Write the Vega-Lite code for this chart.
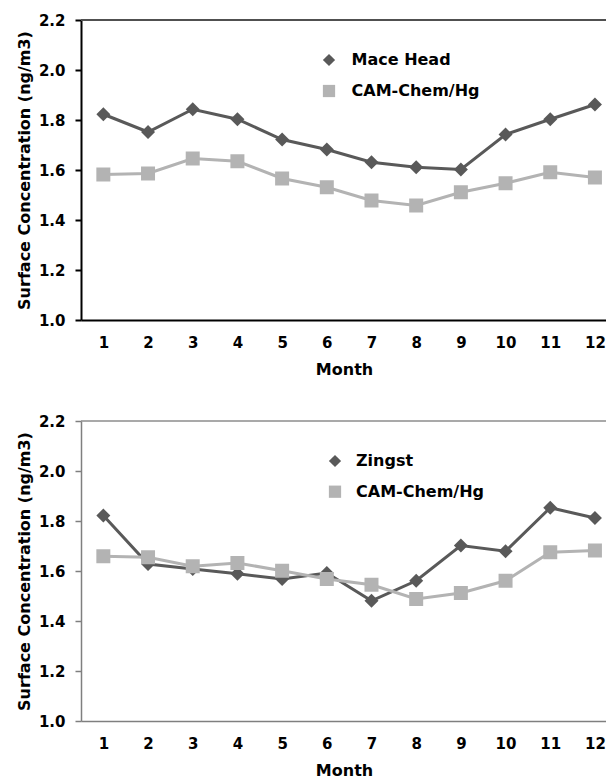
{
  "$schema": "https://vega.github.io/schema/vega-lite/v6.json",
  "background": "white",
  "padding": {"left": 16, "top": 13, "right": 0, "bottom": 0},
  "spacing": 37,
  "config": {
    "font": "DejaVu Sans",
    "view": {"stroke": null},
    "axis": {
      "grid": false,
      "labelFont": "DejaVu Sans",
      "labelFontWeight": "bold",
      "labelFontSize": 15,
      "labelColor": "#000000",
      "titleFont": "DejaVu Sans",
      "titleFontWeight": "bold",
      "titleFontSize": 16,
      "titleColor": "#000000"
    },
    "legend": {
      "orient": "none",
      "title": null,
      "padding": 0,
      "labelFont": "DejaVu Sans",
      "labelFontWeight": "bold",
      "labelFontSize": 16,
      "labelColor": "#000000",
      "symbolSize": 150,
      "symbolStrokeWidth": 0,
      "symbolOpacity": 1
    }
  },
  "resolve": {
    "scale": {"color": "independent", "shape": "independent"},
    "legend": {"color": "independent", "shape": "independent"}
  },
  "vconcat": [
    {
      "width": 526,
      "height": 300,
      "data": {"values": [
        {"series": "Mace Head", "month": 1, "value": 1.823},
        {"series": "Mace Head", "month": 2, "value": 1.752},
        {"series": "Mace Head", "month": 3, "value": 1.843},
        {"series": "Mace Head", "month": 4, "value": 1.803},
        {"series": "Mace Head", "month": 5, "value": 1.722},
        {"series": "Mace Head", "month": 6, "value": 1.682},
        {"series": "Mace Head", "month": 7, "value": 1.631},
        {"series": "Mace Head", "month": 8, "value": 1.611},
        {"series": "Mace Head", "month": 9, "value": 1.602},
        {"series": "Mace Head", "month": 10, "value": 1.742},
        {"series": "Mace Head", "month": 11, "value": 1.803},
        {"series": "Mace Head", "month": 12, "value": 1.862},
        {"series": "CAM-Chem/Hg", "month": 1, "value": 1.582},
        {"series": "CAM-Chem/Hg", "month": 2, "value": 1.586},
        {"series": "CAM-Chem/Hg", "month": 3, "value": 1.646},
        {"series": "CAM-Chem/Hg", "month": 4, "value": 1.635},
        {"series": "CAM-Chem/Hg", "month": 5, "value": 1.566},
        {"series": "CAM-Chem/Hg", "month": 6, "value": 1.531},
        {"series": "CAM-Chem/Hg", "month": 7, "value": 1.478},
        {"series": "CAM-Chem/Hg", "month": 8, "value": 1.458},
        {"series": "CAM-Chem/Hg", "month": 9, "value": 1.511},
        {"series": "CAM-Chem/Hg", "month": 10, "value": 1.547},
        {"series": "CAM-Chem/Hg", "month": 11, "value": 1.591},
        {"series": "CAM-Chem/Hg", "month": 12, "value": 1.570}
      ]},
      "layer": [
        {
          "data": {"values": [{}]},
          "mark": {"type": "rule", "color": "#505050", "strokeWidth": 2},
          "encoding": {"y": {"datum": 2.2, "type": "quantitative"}}
        },
        {
          "mark": {"type": "line", "strokeWidth": 3},
          "encoding": {
            "x": {"field": "month", "type": "quantitative",
              "scale": {"domain": [0.5, 12.27], "nice": false, "zero": false},
              "axis": {"values": [1,2,3,4,5,6,7,8,9,10,11,12], "ticks": false, "labelPadding": 15, "labelFlush": false, "labelOverlap": false, "title": "Month", "titlePadding": 11, "domainColor": "#000000", "domainWidth": 2}},
            "y": {"field": "value", "type": "quantitative",
              "scale": {"domain": [1.0, 2.2], "nice": false, "zero": false},
              "axis": {"values": [1.0,1.2,1.4,1.6,1.8,2.0,2.2], "format": ".1f", "tickSize": 6, "tickColor": "#000000", "tickWidth": 2, "labelPadding": 10, "title": "Surface Concentration (ng/m3)", "titlePadding": 6, "domainColor": "#000000", "domainWidth": 2}},
            "color": {"field": "series", "type": "nominal",
              "scale": {"domain": ["Mace Head", "CAM-Chem/Hg"], "range": ["#595959", "#b3b3b3"]},
              "legend": {"legendX": 240, "legendY": 32, "rowPadding": 15, "labelOffset": 14.5}}
          }
        },
        {
          "mark": {"type": "point", "filled": true, "opacity": 1, "size": 196},
          "encoding": {
            "x": {"field": "month", "type": "quantitative"},
            "y": {"field": "value", "type": "quantitative"},
            "color": {"field": "series", "type": "nominal",
              "legend": {"legendX": 240, "legendY": 32, "rowPadding": 15, "labelOffset": 14.5}},
            "shape": {"field": "series", "type": "nominal",
              "scale": {"domain": ["Mace Head", "CAM-Chem/Hg"], "range": ["diamond", "square"]},
              "legend": null}
          }
        }
      ]
    },
    {
      "width": 526,
      "height": 300,
      "data": {"values": [
        {"series": "Zingst", "month": 1, "value": 1.822},
        {"series": "Zingst", "month": 2, "value": 1.628},
        {"series": "Zingst", "month": 3, "value": 1.608},
        {"series": "Zingst", "month": 4, "value": 1.589},
        {"series": "Zingst", "month": 5, "value": 1.568},
        {"series": "Zingst", "month": 6, "value": 1.592},
        {"series": "Zingst", "month": 7, "value": 1.481},
        {"series": "Zingst", "month": 8, "value": 1.561},
        {"series": "Zingst", "month": 9, "value": 1.702},
        {"series": "Zingst", "month": 10, "value": 1.679},
        {"series": "Zingst", "month": 11, "value": 1.853},
        {"series": "Zingst", "month": 12, "value": 1.812},
        {"series": "CAM-Chem/Hg", "month": 1, "value": 1.659},
        {"series": "CAM-Chem/Hg", "month": 2, "value": 1.655},
        {"series": "CAM-Chem/Hg", "month": 3, "value": 1.619},
        {"series": "CAM-Chem/Hg", "month": 4, "value": 1.632},
        {"series": "CAM-Chem/Hg", "month": 5, "value": 1.601},
        {"series": "CAM-Chem/Hg", "month": 6, "value": 1.568},
        {"series": "CAM-Chem/Hg", "month": 7, "value": 1.545},
        {"series": "CAM-Chem/Hg", "month": 8, "value": 1.488},
        {"series": "CAM-Chem/Hg", "month": 9, "value": 1.512},
        {"series": "CAM-Chem/Hg", "month": 10, "value": 1.561},
        {"series": "CAM-Chem/Hg", "month": 11, "value": 1.675},
        {"series": "CAM-Chem/Hg", "month": 12, "value": 1.682}
      ]},
      "layer": [
        {
          "data": {"values": [{}]},
          "mark": {"type": "rule", "color": "#8c8c8c", "strokeWidth": 1.5},
          "encoding": {"y": {"datum": 2.2, "type": "quantitative"}}
        },
        {
          "mark": {"type": "line", "strokeWidth": 3},
          "encoding": {
            "x": {"field": "month", "type": "quantitative",
              "scale": {"domain": [0.5, 12.27], "nice": false, "zero": false},
              "axis": {"values": [1,2,3,4,5,6,7,8,9,10,11,12], "ticks": false, "labelPadding": 15, "labelFlush": false, "labelOverlap": false, "title": "Month", "titlePadding": 11, "domainColor": "#7f7f7f", "domainWidth": 1.5}},
            "y": {"field": "value", "type": "quantitative",
              "scale": {"domain": [1.0, 2.2], "nice": false, "zero": false},
              "axis": {"values": [1.0,1.2,1.4,1.6,1.8,2.0,2.2], "format": ".1f", "tickSize": 6, "tickColor": "#7f7f7f", "tickWidth": 1.5, "labelPadding": 10, "title": "Surface Concentration (ng/m3)", "titlePadding": 6, "domainColor": "#7f7f7f", "domainWidth": 1.5}},
            "color": {"field": "series", "type": "nominal",
              "scale": {"domain": ["Zingst", "CAM-Chem/Hg"], "range": ["#595959", "#b3b3b3"]},
              "legend": {"legendX": 246, "legendY": 32, "rowPadding": 14.7, "labelOffset": 13}}
          }
        },
        {
          "mark": {"type": "point", "filled": true, "opacity": 1, "size": 196},
          "encoding": {
            "x": {"field": "month", "type": "quantitative"},
            "y": {"field": "value", "type": "quantitative"},
            "color": {"field": "series", "type": "nominal",
              "legend": {"legendX": 246, "legendY": 32, "rowPadding": 14.7, "labelOffset": 13}},
            "shape": {"field": "series", "type": "nominal",
              "scale": {"domain": ["Zingst", "CAM-Chem/Hg"], "range": ["diamond", "square"]},
              "legend": null}
          }
        }
      ]
    }
  ]
}
